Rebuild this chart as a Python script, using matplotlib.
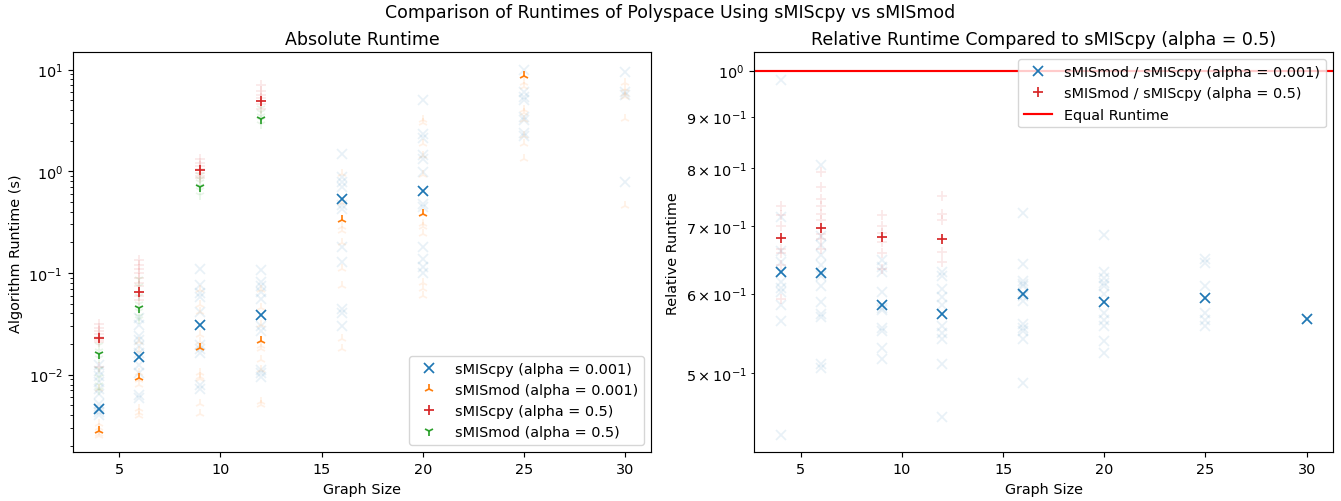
import numpy as np
import matplotlib
matplotlib.use("Agg")
import matplotlib.pyplot as plt

# graph sizes tested
sizes = [4, 6, 9, 12, 16, 20, 25, 30]
sizes_05 = [4, 6, 9, 12]

# individual runtimes (s), one list per graph size
cpy_001_runs = [
    [0.0125, 0.0108, 0.0097, 0.0085, 0.0072, 0.0064, 0.0052, 0.0047, 0.0043, 0.0040],
    [0.036, 0.031, 0.024, 0.022, 0.019, 0.0165, 0.0124, 0.0105, 0.0063, 0.0059],
    [0.11, 0.076, 0.064, 0.058, 0.041, 0.0197, 0.018, 0.0162, 0.0079, 0.0072],
    [0.107, 0.082, 0.075, 0.065, 0.055, 0.0304, 0.027, 0.0112, 0.0105, 0.0095],
    [1.49, 0.88, 0.78, 0.70, 0.47, 0.43, 0.18, 0.128, 0.044, 0.040, 0.030],
    [5.0, 2.35, 2.1, 1.45, 1.33, 0.99, 0.48, 0.45, 0.18, 0.138, 0.115, 0.10],
    [9.9, 6.0, 5.4, 5.0, 3.4, 3.2, 2.4, 2.2],
    [9.5, 6.0, 5.6, 0.79],
]
mod_001_runs = [
    [0.0073, 0.0033, 0.0030, 0.0028, 0.0026, 0.0025],
    [0.021, 0.017, 0.0105, 0.0088, 0.0079, 0.0046, 0.0042, 0.0039],
    [0.068, 0.048, 0.041, 0.0246, 0.021, 0.0105, 0.0095, 0.0091, 0.0052, 0.0041],
    [0.068, 0.045, 0.031, 0.019, 0.018, 0.014, 0.011, 0.0054, 0.0050],
    [0.95, 0.49, 0.28, 0.26, 0.195, 0.11, 0.075, 0.0226, 0.018],
    [3.2, 2.95, 1.87, 1.4, 0.91, 0.30, 0.28, 0.24, 0.08, 0.07, 0.06],
    [7.3, 6.7, 4.0, 3.7, 3.2, 2.2, 1.85, 1.33],
    [7.3, 6.5, 5.8, 5.4, 3.3, 0.46],
]
cpy_05_runs = [
    [0.0315, 0.029, 0.027, 0.025, 0.0235, 0.022, 0.021, 0.012],
    [0.1345, 0.12, 0.11, 0.10, 0.09, 0.08, 0.075, 0.06, 0.054],
    [1.33, 1.2, 1.12, 1.05, 0.97, 0.90, 0.85],
    [7.0, 6.2, 5.6, 5.2, 4.6, 4.1],
]
mod_05_runs = [
    [0.0197, 0.017, 0.0145, 0.0115, 0.0095, 0.0079, 0.007],
    [0.088, 0.075, 0.06, 0.05, 0.042, 0.038, 0.0356],
    [0.92, 0.84, 0.78, 0.72, 0.66, 0.59],
    [4.2, 3.8, 3.5, 3.2, 2.9],
]

# summary runtime per graph size (nan = not available)
cpy_001_avg = [0.00458, 0.0149, 0.0307, 0.039, 0.539, 0.637, np.nan, np.nan]
mod_001_avg = [0.0028, 0.0093, 0.0184, 0.0215, 0.330, 0.378, 8.67, np.nan]
cpy_05_avg = [0.0232, 0.0652, 1.03, 4.92]
mod_05_avg = [0.0158, 0.0454, 0.703, 3.30]

# relative runtimes sMISmod / sMIScpy
ratio_001_runs = [
    [0.978, 0.715, 0.662, 0.645, 0.63, 0.616, 0.608, 0.602, 0.584, 0.564, 0.434],
    [0.805, 0.685, 0.67, 0.655, 0.64, 0.625, 0.61, 0.588, 0.573, 0.568, 0.510, 0.506],
    [0.648, 0.638, 0.630, 0.602, 0.58, 0.578, 0.555, 0.551, 0.53, 0.516],
    [0.63, 0.625, 0.606, 0.595, 0.584, 0.557, 0.548, 0.541, 0.510, 0.452],
    [0.722, 0.642, 0.617, 0.613, 0.61, 0.597, 0.59, 0.559, 0.555, 0.55, 0.540, 0.489],
    [0.686, 0.63, 0.622, 0.615, 0.61, 0.60, 0.574, 0.565, 0.557, 0.538, 0.524],
    [0.649, 0.644, 0.610, 0.574, 0.565, 0.557],
    [0.566],
]
ratio_05_runs = [
    [0.734, 0.718, 0.701, 0.665, 0.659, 0.640, 0.592],
    [0.792, 0.766, 0.745, 0.734, 0.72, 0.71, 0.688, 0.68, 0.665],
    [0.718, 0.70, 0.69, 0.675, 0.659, 0.634],
    [0.751, 0.72, 0.71, 0.66, 0.645],
]
ratio_001_avg = [0.630, 0.629, 0.585, 0.573, 0.599, 0.588, 0.594, 0.566]
ratio_05_avg = [0.681, 0.697, 0.683, 0.680]

# slightly enlarged defaults
scale = 1.04
plt.rcParams.update({
    "font.size": 10 * scale,
    "lines.linewidth": 1.5 * scale,
    "axes.linewidth": 0.8 * scale,
    "xtick.major.width": 0.8 * scale,
    "ytick.major.width": 0.8 * scale,
    "ytick.minor.width": 0.6 * scale,
    "xtick.major.size": 3.5 * scale,
    "ytick.major.size": 3.5 * scale,
    "ytick.minor.size": 2 * scale,
})
ms = 7
mew = 1.25
faint = 0.1


def plot_runs(ax, xs, runs, marker, color):
    for x, vals in zip(xs, runs):
        ax.plot([x] * len(vals), vals, marker, color=color, alpha=faint, ms=ms, mew=mew)


fig, (ax1, ax2) = plt.subplots(1, 2, figsize=(13.41, 5.02), dpi=100)
fig.subplots_adjust(left=0.0542, right=0.994, bottom=0.097, top=0.894, wspace=0.178)
fig.suptitle("Comparison of Runtimes of Polyspace Using sMIScpy vs sMISmod", y=0.992)

# absolute runtimes
plot_runs(ax1, sizes, cpy_001_runs, "x", "C0")
plot_runs(ax1, sizes, mod_001_runs, "2", "C1")
plot_runs(ax1, sizes_05, cpy_05_runs, "+", "C3")
plot_runs(ax1, sizes_05, mod_05_runs, "1", "C2")
ax1.plot(sizes, cpy_001_avg, "x", color="C0", ms=ms, mew=mew, label="sMIScpy (alpha = 0.001)")
ax1.plot(sizes, mod_001_avg, "2", color="C1", ms=ms, mew=mew, label="sMISmod (alpha = 0.001)")
ax1.plot(sizes_05, cpy_05_avg, "+", color="C3", ms=ms, mew=mew, label="sMIScpy (alpha = 0.5)")
ax1.plot(sizes_05, mod_05_avg, "1", color="C2", ms=ms, mew=mew, label="sMISmod (alpha = 0.5)")
ax1.set_yscale("log")
ax1.set_xlim(2.7, 31.3)
ax1.set_ylim(0.001726, 14.8)
ax1.set_title("Absolute Runtime")
ax1.set_xlabel("Graph Size")
ax1.set_ylabel("Algorithm Runtime (s)")
ax1.legend(loc="lower right")

# relative runtimes
plot_runs(ax2, sizes, ratio_001_runs, "x", "C0")
plot_runs(ax2, sizes_05, ratio_05_runs, "+", "C3")
ax2.plot(sizes, ratio_001_avg, "x", color="C0", ms=ms, mew=mew,
         label="sMISmod / sMIScpy (alpha = 0.001)")
ax2.plot(sizes_05, ratio_05_avg, "+", color="C3", ms=ms, mew=mew,
         label="sMISmod / sMIScpy (alpha = 0.5)")
ax2.axhline(1.0, color="red", label="Equal Runtime")
ax2.set_yscale("log")
ax2.set_xlim(2.7, 31.3)
ax2.set_ylim(0.417, 1.043)
ax2.set_title("Relative Runtime Compared to sMIScpy (alpha = 0.5)")
ax2.set_xlabel("Graph Size")
ax2.set_ylabel("Relative Runtime")
ax2.legend(loc="upper right")

fig.savefig("out.png", dpi=100)
